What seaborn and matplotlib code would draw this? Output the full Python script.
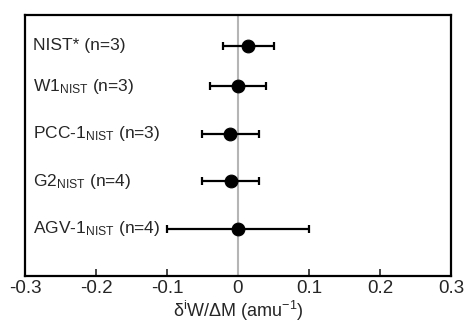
import matplotlib
matplotlib.use('Agg')
import matplotlib.pyplot as plt
import seaborn as sns
import pandas as pd

# reference materials, mean offset and 2sd
samples = ["NIST*", "W1", "PCC-1", "G2", "AGV-1"]
subs = ["", "NIST", "NIST", "NIST", "NIST"]
counts = [3, 3, 3, 4, 4]
means = [0.0145, 0.0, -0.011, -0.010, 0.0]
errs = [0.036, 0.040, 0.040, 0.040, 0.100]
rows = [4.85, 4, 3, 2, 1]

sns.set_style("white")
plt.rcParams['font.family'] = ['Liberation Sans', 'DejaVu Sans']
plt.rcParams['mathtext.fontset'] = 'custom'
plt.rcParams['mathtext.rm'] = 'Liberation Sans'
plt.rcParams['mathtext.it'] = 'Liberation Sans:italic'

df = pd.DataFrame({'mean': means, 'err': errs, 'row': rows})

fig = plt.figure(figsize=(4.66, 3.24), dpi=100)
ax = fig.add_axes([0.0536, 0.148, 0.9142, 0.8057])

ax.axvline(0, color='#b5b5b5', lw=1.5, zorder=1)
ax.errorbar(df['mean'], df['row'], xerr=df['err'], fmt='none', ecolor='black',
            elinewidth=1.6, capsize=3.2, capthick=1.6, zorder=2)
sns.scatterplot(data=df, x='mean', y='row', color='black', s=85,
                edgecolor='black', zorder=3, ax=ax)

# labels inside the plot
for name, sub, n, y in zip(samples, subs, counts, rows):
    if sub:
        label = name + r"$_{\mathrm{" + sub + r"}}$" + f" (n={n})"
    else:
        label = f"{name} (n={n})"
    ax.text(0.018, y, label, transform=ax.get_yaxis_transform(),
            ha='left', va='center', fontsize=12.5)

ax.set_xlim(-0.3, 0.3)
ax.set_ylim(0, 5.5)
ax.set_xticks([-0.3, -0.2, -0.1, 0, 0.1, 0.2, 0.3])
ax.set_xticklabels(["-0.3", "-0.2", "-0.1", "0", "0.1", "0.2", "0.3"])
ax.set_yticks([])
ax.tick_params(axis='x', direction='in', length=5, width=1.2, labelsize=13.5,
               bottom=True, pad=3)
ax.set_xlabel(r"δ$^{\mathrm{i}}$W/ΔM (amu$^{-1}$)", fontsize=13, labelpad=1.5)
ax.set_ylabel("")
for sp in ax.spines.values():
    sp.set_color('black')
    sp.set_linewidth(1.6)

fig.savefig('out.png', dpi=100)
